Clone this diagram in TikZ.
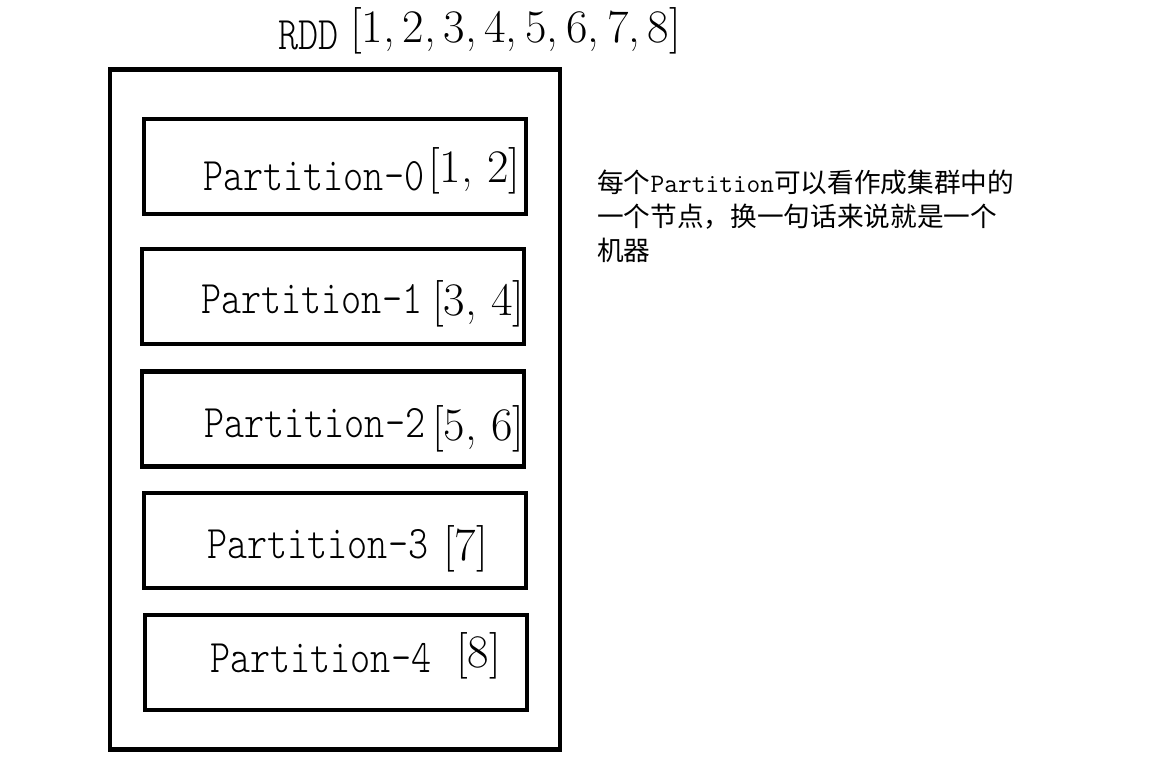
\documentclass[tikz,border=0pt]{standalone}
\usepackage{fontspec}
\usepackage{graphicx}
\newfontfamily\cjk{Noto Sans CJK SC}
\newfontfamily\lmono{lmmonolt10-regular.otf}
\newcommand{\pname}[1]{\scalebox{0.82}[1]{\lmono #1}}

\begin{document}
\begin{tikzpicture}[x=0.75pt,y=-0.75pt,box/.style={draw,line
        width=3.2pt,rectangle,inner sep=0pt},txt/.style={inner
        sep=0pt,anchor=base west,font=\fontsize{35}{40}\selectfont}]

    \useasboundingbox (0,0) rectangle (1154,778);

    % the boxes
    \tikzstyle{part}=[box,minimum width=286.5pt,minimum height=71.25pt]

    \node[box,minimum width=337pt,minimum height=510pt] (rdd) at (335,409.5) {};
    \node[part] (p0) at (335,166.5) {};
    \node[part] (p1) at (333,296.5) {};
    \node[part] (p2) at (333,419) {};
    \node[part] (p3) at (335,540.5) {};
    \node[part] (p4) at (336,662.5) {};

    % the texts
    \node[txt] (title) at (278,49) {\pname{RDD}};
    \node[txt] (titlev) at (350,42) {[1,\,2,\,3,\,4,\,5,\,6,\,7,\,8]};

    \node[txt] (t0) at (203,190) {\pname{Partition-0}};
    \node[txt] (v0) at (428,182) {[1,\ 2]};
    \node[txt] (t1) at (201,313) {\pname{Partition-1}};
    \node[txt] (v1) at (432,315) {[3,\ 4]};
    \node[txt] (t2) at (204,437) {\pname{Partition-2}};
    \node[txt] (v2) at (432,440) {[5,\ 6]};
    \node[txt] (t3) at (207,558) {\pname{Partition-3}};
    \node[txt] (v3) at (443,560) {[7]};
    \node[txt] (t4) at (210,672) {\pname{Partition-4}};
    \node[txt] (v4) at (456,667) {[8]};

    \node[inner sep=0pt,anchor=north west,align=left,
      font=\fontsize{20}{25.5}\selectfont\cjk] (note) at (597,170)
      {每个{\ttfamily Partition}可以看作成集群中的\\
       一个节点，换一句话来说就是一个\\
       机器};

  \end{tikzpicture}
\end{document}
